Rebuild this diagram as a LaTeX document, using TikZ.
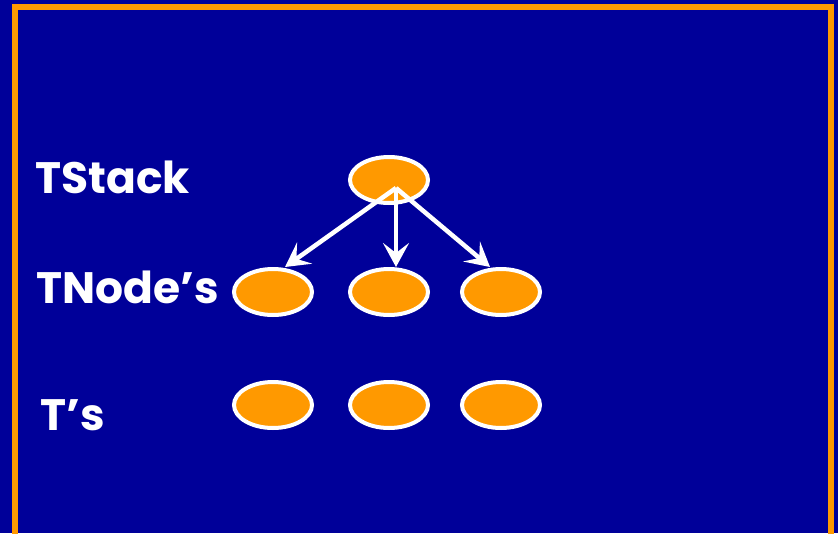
\documentclass[tikz,border=0pt]{standalone}
\usepackage{fontspec}
\setmainfont{Poppins}
\usetikzlibrary{shapes.geometric,arrows.meta}
\definecolor{bgblue}{HTML}{000099}
\definecolor{orng}{HTML}{FF9900}
\tikzset{
  ell/.style={ellipse, draw=white, fill=orng, line width=4pt, minimum width=78pt, minimum height=46pt, inner sep=0pt},
  arr/.style={draw=white, line width=4.5pt, -{Stealth[length=24pt,width=26pt,inset=10pt]}},
  lab/.style={text=white, font=\fontsize{44}{52}\selectfont\bfseries, anchor=base west, inner sep=0pt}
}
\begin{document}
\begin{tikzpicture}[x=1pt,y=-1pt]
\useasboundingbox (0,0) rectangle (838,533);
\clip (0,0) rectangle (838,533);
\fill[bgblue] (0,0) rectangle (838,533);
\draw[orng, line width=6pt] (15,7) rectangle (831,540);
\node[ell] (s) at (389,180) {};
\node[ell] (n1) at (273,292) {};
\node[ell] (n2) at (389,292) {};
\node[ell] (n3) at (501,292) {};
\node[ell] (t1) at (273,405) {};
\node[ell] (t2) at (389,405) {};
\node[ell] (t3) at (501,405) {};
\coordinate (o) at ([xshift=7pt,yshift=-8pt]s.center);
\draw[arr] (o) -- ([xshift=12pt]n1.north);
\draw[arr] (o) -- ([xshift=7pt]n2.north);
\draw[arr] (o) -- ([xshift=-11pt]n3.north);
\node[lab] (l1) at (35,193) {TStack};
\node[lab] (l2) at (36,303) {TNode’s};
\node[lab] (l3) at (40,430) {T’s};
\end{tikzpicture}
\end{document}
